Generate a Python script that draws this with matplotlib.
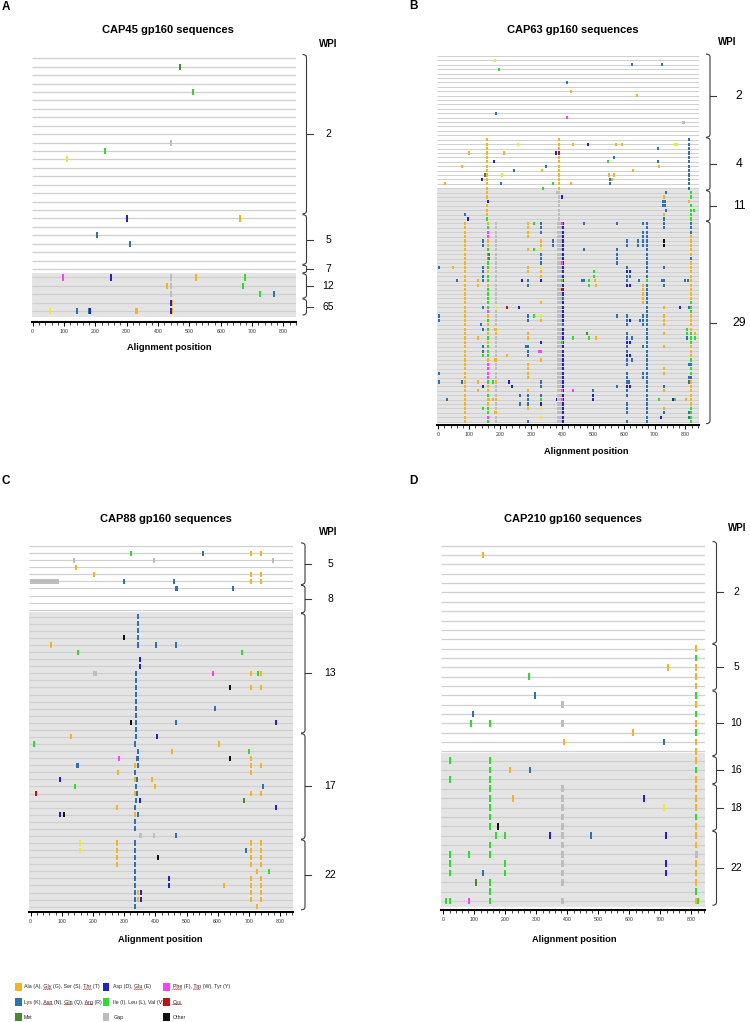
import matplotlib
matplotlib.use('Agg')
import numpy as np
import matplotlib.pyplot as plt
from matplotlib import font_manager
from matplotlib.path import Path
from matplotlib.patches import PathPatch, Rectangle
from matplotlib.lines import Line2D
from matplotlib.ticker import MultipleLocator
from matplotlib.transforms import IdentityTransform

W, H = 750, 1022
plt.rcParams['font.family'] = ['Liberation Sans', 'DejaVu Sans']

# residue class colours (A=small, Y=yellow variant, K=basic, D=acidic, V=hydrophobic,
# M=Met, G=gap, F=aromatic, C=Cys, X=other)
COLORS = {'A': '#f4b41a', 'Y': '#ecec22', 'K': '#2e72b4', 'D': '#2222cc', 'V': '#2edc2e',
          'M': '#4a8a2e', 'G': '#bdbdbd', 'F': '#ff3cff', 'C': '#c81010', 'X': '#111111'}

# ---------------- panel A : CAP45 ----------------
A_TITLE = 'CAP45 gp160 sequences'
A_GROUPS = [('2', 0, 18), ('5', 19, 24), ('7', 25, 25), ('12', 26, 28), ('65', 29, 30)]
A_MARKS = [(1, 470, 'M'), (4, 511, 'V'), (10, 441, 'G'), (11, 231, 'V'), (12, 108, 'Y'),
           (19, 301, 'D'), (19, 662, 'A'), (21, 204, 'K'), (22, 310, 'K'),
           (26, 96, 'F'), (26, 250, 'D'), (26, 441, 'G'), (26, 522, 'A'), (26, 678, 'V'),
           (27, 427, 'A'), (27, 441, 'G'), (27, 671, 'V'),
           (28, 441, 'G'), (28, 725, 'V'), (28, 770, 'K'),
           (29, 441, 'D'), (29, 445, 'A'),
           (30, 55, 'Y'), (30, 141, 'K'), (30, 179, 'K'), (30, 184, 'D'), (30, 330, 'A'),
           (30, 334, 'A'), (30, 441, 'D'), (30, 445, 'A')]
A_COLUMNS = []
A_GAPS = []

# ---------------- panel B : CAP63 ----------------
B_TITLE = 'CAP63 gp160 sequences'
B_GROUPS = [('2', 0, 18), ('4', 19, 30), ('11', 31, 37), ('29', 38, 83)]
B_COLUMNS = [
    (157, 19, 'AAAAAAAAAAAA' 'AA.AAA.'),
    (391, 19, 'AAACAAAAAAAA' 'GGGGGGG'),
    (811, 19, 'KKKKKKKKKKKK'),
    (87, 38, 'AAAAAAAAAA' 'AAAAAAAAAA' 'AAAAAAAAAA' 'AAAAAAAAAA' 'AAAAAA'),
    (160, 38, 'AVFFAAVVVV' 'VAVVAVVVVV' 'FAVAVAVAVV' 'VAFFFFVAAV' 'AAVVFV'),
    (187, 38, 'GGGGGGGGGG' 'GGGGGGGGGY' 'GGGGAAGGGG' 'GAGGGGAGGG' 'AGGAGG'),
    (289, 38, 'AAAA..A...' 'AA.KK.....' '.KK..AA.KK' 'K.AAAA..AK' 'KKA..K'),
    (332, 38, 'KKK.AAYKKK' 'YAAD....A.' '.YA....D.F' '.A....KK.K' 'VDY.Y.'),
    (387, 38, 'GGGGGGGGGG' 'GGGGGGGGGG' 'GGGGGGGGGG' 'GGGGGGGGGG' 'GGGGGG'),
    (393, 38, 'GGGGGGGGGG' 'GGGGGGGGGG' 'GGGGGGGGGG' 'GGGGGGGGGG' 'GGGGGG'),
    (399, 38, 'FAAAAAAAAF' 'AAAVACAAAA' 'AAAAAAAVAA' 'AAAAAAAAFA' 'FAAAAA'),
    (405, 38, 'DDDDDDDDDD' 'DDDDDDDKDD' 'DDDKDDDDDD' 'DDDDDDDDDD' 'DDDDDD'),
    (612, 38, '....KK....' 'KDKKD.....' '.KKK.KKDKK' 'DKK.KKKDKK' '.KKK.K'),
    (663, 38, 'K.KKKK....' '....AAAAA.' '.KKK....K.' '....KK....' '......'),
    (674, 38, 'KKKKKKKKKK' 'KKKVKKKKKK' 'KKKKKKKKKK' 'KKKKKKKKKK' 'KKKKKK'),
    (730, 38, 'KK..XX....' 'K..KK....A' '.AAA.A..A.' '...AA..KA.' '..AK..'),
    (817, 38, 'KKKAAAAAKA' 'AAAAAAAAVV' 'VAAAAVVVAA' 'AVKVVKAAAA' 'AAVVVV'),
]
B_MARKS = [
    (1, 183, 'Y'), (2, 626, 'K'), (2, 725, 'K'), (3, 195, 'V'), (6, 418, 'K'), (8, 431, 'A'),
    (9, 642, 'A'), (13, 187, 'K'), (14, 415, 'F'), (15, 793, 'G'),
    (20, 257, 'Y'), (20, 436, 'A'), (20, 483, 'D'), (20, 574, 'A'), (20, 594, 'A'),
    (20, 767, 'Y'), (20, 772, 'Y'), (21, 712, 'K'),
    (22, 99, 'A'), (22, 213, 'A'), (22, 382, 'D'), (23, 568, 'K'),
    (24, 181, 'D'), (24, 550, 'V'), (24, 711, 'K'),
    (25, 78, 'A'), (25, 347, 'K'), (25, 715, 'A'),
    (26, 244, 'K'), (26, 335, 'A'), (26, 631, 'A'),
    (27, 150, 'M'), (27, 206, 'Y'), (27, 552, 'A'), (27, 570, 'A'),
    (28, 142, 'D'), (28, 557, 'K'), (28, 563, 'A'),
    (29, 23, 'A'), (29, 202, 'K'), (29, 370, 'V'), (29, 431, 'A'), (29, 556, 'K'),
    (30, 338, 'V'),
    (31, 386, 'G'), (31, 736, 'K'), (31, 818, 'V'),
    (32, 399, 'D'), (32, 730, 'A'), (32, 818, 'V'),
    (33, 162, 'D'), (33, 728, 'K'), (33, 734, 'K'), (33, 810, 'A'),
    (34, 728, 'K'), (34, 734, 'K'), (34, 818, 'V'),
    (35, 736, 'K'), (35, 818, 'V'), (35, 828, 'V'),
    (36, 85, 'K'), (36, 730, 'A'), (36, 818, 'V'),
    (37, 95, 'D'), (37, 158, 'V'), (37, 732, 'K'), (37, 818, 'V'),
    (38, 310, 'V'), (38, 472, 'K'), (38, 577, 'K'),
    (42, 146, 'K'), (42, 372, 'K'), (42, 647, 'K'),
    (43, 146, 'K'), (43, 372, 'K'), (43, 647, 'K'),
    (44, 310, 'V'), (44, 472, 'K'), (44, 577, 'K'),
    (45, 165, 'M'), (45, 577, 'K'), (46, 165, 'M'), (46, 577, 'K'), (47, 577, 'K'),
    (48, 2, 'K'), (48, 49, 'A'), (48, 146, 'K'),
    (49, 146, 'K'), (49, 505, 'V'), (49, 620, 'D'),
    (50, 146, 'K'), (50, 505, 'V'), (50, 620, 'K'),
    (51, 60, 'K'), (51, 127, 'A'), (51, 146, 'K'), (51, 272, 'D'), (51, 464, 'K'),
    (51, 472, 'K'), (51, 487, 'V'), (51, 508, 'A'), (51, 648, 'K'), (51, 725, 'K'),
    (51, 800, 'K'), (51, 809, 'K'),
    (52, 127, 'A'), (52, 489, 'V'), (52, 510, 'A'), (52, 620, 'D'),
    (57, 146, 'K'), (57, 221, 'C'), (57, 262, 'D'), (57, 782, 'D'), (57, 810, 'K'),
    (59, 2, 'K'), (59, 310, 'V'), (59, 579, 'K'),
    (60, 2, 'K'), (60, 619, 'D'), (60, 653, 'K'),
    (61, 137, 'K'),
    (62, 146, 'K'), (62, 183, 'A'), (62, 804, 'V'),
    (63, 480, 'M'), (63, 804, 'V'), (63, 832, 'A'),
    (64, 128, 'A'), (64, 435, 'V'), (64, 489, 'V'), (64, 510, 'A'), (64, 626, 'K'),
    (64, 804, 'K'), (64, 832, 'V'),
    (65, 619, 'D'), (66, 146, 'K'), (66, 284, 'K'), (67, 146, 'K'), (67, 326, 'F'),
    (68, 146, 'V'), (68, 221, 'A'), (68, 619, 'D'), (69, 183, 'A'), (69, 628, 'K'),
    (70, 810, 'K'), (72, 2, 'K'), (73, 810, 'K'),
    (74, 2, 'K'), (74, 76, 'K'), (74, 128, 'A'), (74, 178, 'V'), (74, 228, 'D'),
    (74, 618, 'K'), (74, 810, 'K'),
    (75, 146, 'D'), (75, 237, 'D'), (75, 577, 'K'), (75, 619, 'D'),
    (76, 128, 'A'), (76, 437, 'F'), (76, 502, 'K'),
    (77, 264, 'K'), (77, 500, 'D'),
    (78, 27, 'K'), (78, 165, 'A'), (78, 178, 'A'), (78, 383, 'D'), (78, 500, 'D'),
    (78, 715, 'V'), (78, 761, 'D'), (78, 765, 'V'), (78, 801, 'A'),
    (79, 264, 'K'), (80, 146, 'V'), (81, 183, 'A'), (81, 810, 'K'),
    (82, 720, 'D'), (82, 810, 'K'),
]
B_GAPS = []

# ---------------- panel C : CAP88 ----------------
C_TITLE = 'CAP88 gp160 sequences'
C_GROUPS = [('5', 0, 5), ('8', 6, 9), ('13', 10, 26), ('17', 27, 41), ('22', 42, 51)]
C_COLUMNS = [(345, 10, 'KKKKK'), (352, 16, 'DD'), (338, 18, 'KKKKKKKKK'),
             (335, 42, 'KKKKKKKKKK')]
C_MARKS = [
    (1, 321, 'V'), (1, 553, 'K'), (1, 707, 'A'), (1, 738, 'A'),
    (2, 139, 'G'), (2, 396, 'G'), (2, 778, 'G'), (3, 145, 'A'),
    (4, 203, 'A'), (4, 707, 'A'), (4, 738, 'A'),
    (5, 300, 'K'), (5, 459, 'K'), (5, 707, 'A'), (5, 738, 'A'),
    (6, 465, 'K'), (6, 469, 'K'), (6, 649, 'K'),
    (13, 300, 'X'), (14, 64, 'A'), (14, 403, 'K'), (14, 467, 'K'),
    (15, 151, 'V'), (15, 677, 'V'),
    (18, 203, 'G'), (18, 209, 'G'), (18, 586, 'F'), (18, 707, 'A'), (18, 728, 'V'), (18, 738, 'A'),
    (20, 640, 'X'), (20, 707, 'A'), (20, 738, 'A'), (23, 591, 'K'),
    (25, 321, 'X'), (25, 467, 'K'), (25, 787, 'D'),
    (27, 128, 'A'), (27, 338, 'K'), (27, 406, 'D'),
    (28, 12, 'V'), (28, 334, 'K'), (28, 604, 'A'),
    (29, 345, 'K'), (29, 452, 'A'), (29, 700, 'V'),
    (30, 284, 'F'), (30, 341, 'K'), (30, 345, 'K'), (30, 640, 'X'), (30, 707, 'A'),
    (31, 149, 'K'), (31, 153, 'K'), (31, 334, 'A'), (31, 345, 'K'), (31, 707, 'A'), (31, 738, 'A'),
    (32, 279, 'A'), (32, 334, 'K'), (32, 707, 'A'),
    (33, 94, 'D'), (33, 334, 'A'), (33, 340, 'K'), (33, 389, 'A'),
    (34, 142, 'V'), (34, 338, 'K'), (34, 400, 'A'), (34, 745, 'K'),
    (35, 18, 'C'), (35, 334, 'A'), (35, 340, 'K'), (35, 707, 'A'), (35, 738, 'A'),
    (36, 338, 'K'), (36, 352, 'D'), (36, 686, 'M'),
    (37, 277, 'A'), (37, 334, 'K'), (37, 787, 'D'),
    (38, 94, 'D'), (38, 107, 'X'), (38, 334, 'A'), (38, 345, 'K'),
    (39, 334, 'K'), (40, 334, 'K'),
    (41, 352, 'G'), (41, 396, 'G'), (41, 467, 'K'),
    (42, 159, 'Y'), (42, 277, 'A'), (42, 707, 'A'), (42, 738, 'A'),
    (43, 159, 'Y'), (43, 277, 'A'), (43, 691, 'K'), (43, 707, 'A'), (43, 738, 'A'),
    (44, 277, 'A'), (44, 408, 'X'), (44, 707, 'A'), (44, 738, 'A'),
    (45, 277, 'A'), (45, 707, 'A'), (45, 738, 'A'),
    (46, 726, 'A'), (46, 764, 'V'),
    (47, 444, 'D'), (47, 707, 'A'), (47, 738, 'A'),
    (48, 444, 'D'), (48, 620, 'A'), (48, 707, 'A'), (48, 738, 'A'),
    (49, 344, 'A'), (49, 355, 'D'), (49, 707, 'A'), (49, 738, 'A'),
    (50, 344, 'A'), (50, 355, 'D'), (50, 707, 'A'), (50, 738, 'A'),
    (51, 726, 'A'),
]
C_GAPS = [(5, -2, 92)]

# ---------------- panel D : CAP210 ----------------
D_TITLE = 'CAP210 gp160 sequences'
D_GROUPS = [('2', 0, 10), ('5', 11, 15), ('10', 16, 22), ('16', 23, 25), ('18', 26, 30), ('22', 31, 38)]
D_COLUMNS = [(816, 11, 'AVAAAVAVAVAAAVAAAAVAAAGAAAVA'),
             (150, 23, 'VVVVVVVV.VV..VVV'),
             (385, 26, 'GGGGGGGGGGG.G')]
D_MARKS = [
    (1, 127, 'A'), (13, 724, 'A'), (14, 276, 'V'), (16, 296, 'K'), (17, 385, 'G'),
    (18, 97, 'K'), (19, 88, 'V'), (19, 150, 'V'), (19, 385, 'G'), (20, 613, 'A'),
    (21, 390, 'A'), (21, 713, 'K'),
    (23, 22, 'V'), (24, 215, 'A'), (24, 280, 'K'), (25, 22, 'V'),
    (27, 224, 'A'), (27, 646, 'D'), (28, 712, 'Y'), (30, 178, 'X'),
    (31, 170, 'V'), (31, 200, 'V'), (31, 343, 'D'), (31, 476, 'K'), (31, 717, 'D'),
    (33, 22, 'V'), (33, 84, 'V'),
    (34, 22, 'V'), (34, 200, 'V'), (34, 717, 'D'),
    (35, 22, 'V'), (35, 127, 'K'), (35, 200, 'V'), (35, 717, 'D'),
    (36, 105, 'M'),
    (38, 10, 'V'), (38, 22, 'V'), (38, 84, 'F'), (38, 821, 'V'),
]
D_GAPS = []

# ---------------- legend ----------------
LEGEND_LABELS = ['Ala (A), Gly (G), Ser (S), Thr (T)', 'Lys (K), Asn (N), Gln (Q), Arg (R)', 'Met',
                 'Asp (D), Glu (E)', 'Ile (I), Leu (L), Val (V)', 'Gap',
                 'Phe (F), Trp (W), Tyr (Y)', 'Cys', 'Other']
LEGEND_CODES = ['A', 'K', 'M', 'D', 'V', 'G', 'F', 'C', 'X']
LEGEND_SQUIGGLE = [['Gly', 'Thr'], ['Asn', 'Gln', 'Arg'], [], ['Glu'], [], [],
                   ['Phe', 'Trp'], ['Cys'], []]

# layout in output pixels
LAYOUT = {
    'A': dict(left=31.7, right=296, xlim=(-3.2, 840), row0=58.3, step=8.43, ybot=31.33,
              shade=(25.5, 30.65), brace_x=306.5, label_x=328, label_size=7.5,
              title_xy=(168.3, 30), wpi_xy=(328, 44), letter_xy=(6.3, 6.7),
              xlabel_xy=(169, 348), line_w=0.9),
    'B': dict(left=436.7, right=699.3, xlim=(-5.2, 844.7), row0=56, step=4.406, ybot=83.8,
              shade=(30.2, 83.4), brace_x=710, label_x=739, label_size=8.7,
              title_xy=(572.5, 30), wpi_xy=(726.7, 41.7), letter_xy=(413.3, 6.2),
              xlabel_xy=(586, 451), line_w=0.7),
    'C': dict(left=29.3, right=293.3, xlim=(-4.5, 842.7), row0=546, step=7.072, ybot=51.71,
              shade=(9.29, 51.47), brace_x=305, label_x=330, label_size=7.5,
              title_xy=(165.8, 519), wpi_xy=(327.8, 532.3), letter_xy=(5.8, 480.5),
              xlabel_xy=(160, 940), line_w=0.85),
    'D': dict(left=440.7, right=705, xlim=(-8.4, 844), row0=545.7, step=9.351, ybot=38.96,
              shade=(22.15, 38.6), brace_x=716.5, label_x=736, label_size=7.5,
              title_xy=(572.5, 519), wpi_xy=(736.7, 528.3), letter_xy=(413.3, 480.5),
              xlabel_xy=(574, 940), line_w=0.9),
}

fig = plt.figure(figsize=(W / 100, H / 100), dpi=100)
fig.patch.set_facecolor('white')


def fx(x):
    return x / W


def fy(y):
    return 1 - y / H


def expand(columns):
    out = []
    for pos, first, codes in columns:
        for i, c in enumerate(codes):
            if c != '.':
                out.append((first + i, pos, c))
    return out


def draw_brace(x0, t, b, hook=4.0, curl=3.0, tick=6.0):
    c = min(curl, (b - t) / 4)
    m = (t + b) / 2
    pts = [(x0 - hook, t), (x0, t), (x0, t + c), (x0, b - c), (x0, b), (x0 - hook, b)]
    codes = [Path.MOVETO, Path.CURVE3, Path.CURVE3, Path.LINETO, Path.CURVE3, Path.CURVE3]
    verts = [(fx(x), fy(y)) for x, y in pts]
    fig.add_artist(PathPatch(Path(verts, codes), fill=False, lw=0.8, ec='#3a3a3a',
                             transform=fig.transFigure))
    fig.add_artist(Line2D([fx(x0), fx(x0 + tick)], [fy(m), fy(m)], lw=0.8, color='#3a3a3a',
                          transform=fig.transFigure))


def draw_panel(key, letter, title, groups, marks, columns, gaps):
    L = LAYOUT[key]
    n = groups[-1][2] + 1
    top = L['row0'] - 0.5 * L['step']
    bot = L['row0'] + L['ybot'] * L['step']
    ax = fig.add_axes([fx(L['left']), fy(bot), (L['right'] - L['left']) / W, (bot - top) / H])
    ax.set_xlim(*L['xlim'])
    ax.set_ylim(L['ybot'], -0.5)
    ax.patch.set_alpha(0)
    ppu = (L['right'] - L['left']) / (L['xlim'][1] - L['xlim'][0])

    ax.axhspan(*L['shade'], color='#e4e4e4', lw=0, zorder=0)
    ax.hlines(list(range(n)), *L['xlim'], colors='#cfcfcf', lw=L['line_w'], zorder=1)

    allm = list(marks) + expand(columns)
    for code, col in COLORS.items():
        pts = [(r, p) for r, p, c in allm if c == code]
        if not pts:
            continue
        w = (2.5 if code == 'G' else 2.0) / ppu
        ax.bar([p for r, p in pts], 0.72, width=w, bottom=[r - 0.36 for r, p in pts],
               color=col, lw=0, zorder=2)
    for r, a, b in gaps:
        ax.bar((a + b) / 2, 0.72, width=b - a, bottom=r - 0.36, color=COLORS['G'], lw=0, zorder=2)

    for s in ['top', 'left', 'right']:
        ax.spines[s].set_visible(False)
    ax.spines['bottom'].set_linewidth(1.5)
    ax.set_yticks([])
    ax.xaxis.set_major_locator(MultipleLocator(100))
    ax.xaxis.set_minor_locator(MultipleLocator(20))
    ax.tick_params(axis='x', which='major', length=3, width=0.7, labelsize=3.8, pad=2,
                   labelcolor='#333333')
    ax.tick_params(axis='x', which='minor', length=1.8, width=0.5)

    for lab, a, b in groups:
        t = L['row0'] + (a - 0.45) * L['step']
        bt = L['row0'] + (b + 0.45) * L['step']
        draw_brace(L['brace_x'], t, bt)
        fig.text(fx(L['label_x']), fy((t + bt) / 2), lab, ha='center', va='center',
                 fontsize=L['label_size'])

    fig.text(fx(L['title_xy'][0]), fy(L['title_xy'][1]), title, ha='center', va='center',
             fontsize=8, fontweight='bold')
    fig.text(fx(L['wpi_xy'][0]), fy(L['wpi_xy'][1]), 'WPI', ha='center', va='center',
             fontsize=7, fontweight='bold')
    fig.text(fx(L['letter_xy'][0]), fy(L['letter_xy'][1]), letter, ha='center', va='center',
             fontsize=8.5, fontweight='bold')
    fig.text(fx(L['xlabel_xy'][0]), fy(L['xlabel_xy'][1]), 'Alignment position', ha='center',
             va='center', fontsize=6.7, fontweight='bold')


draw_panel('A', 'A', A_TITLE, A_GROUPS, A_MARKS, A_COLUMNS, A_GAPS)
draw_panel('B', 'B', B_TITLE, B_GROUPS, B_MARKS, B_COLUMNS, B_GAPS)
draw_panel('C', 'C', C_TITLE, C_GROUPS, C_MARKS, C_COLUMNS, C_GAPS)
draw_panel('D', 'D', D_TITLE, D_GROUPS, D_MARKS, D_COLUMNS, D_GAPS)

# legend
installed = {f.name for f in font_manager.fontManager.ttflist}
if 'Liberation Sans Narrow' in installed:
    leg_family, leg_size = ['Liberation Sans Narrow', 'DejaVu Sans'], 4.6
else:
    leg_family, leg_size = ['Liberation Sans', 'DejaVu Sans'], 3.8
LEG_COLS = [(15, 24), (102.7, 113.3), (163.3, 172.7)]
LEG_ROWS = [986.7, 1002, 1017.3]
leg_texts = []
for i, (lab, code) in enumerate(zip(LEGEND_LABELS, LEGEND_CODES)):
    sx, tx = LEG_COLS[i // 3]
    y = LEG_ROWS[i % 3]
    fig.add_artist(Rectangle((fx(sx), fy(y + 3.8)), 6.5 / W, 7.6 / H, transform=fig.transFigure,
                             fc=COLORS[code], ec='none'))
    leg_texts.append(fig.text(fx(tx), fy(y), lab, ha='left', va='center', fontsize=leg_size,
                              family=leg_family, color='#222222'))

renderer = fig.canvas.get_renderer()
for t, words in zip(leg_texts, LEGEND_SQUIGGLE):
    if not words:
        continue
    bb = t.get_window_extent(renderer)
    prop = t.get_fontproperties()
    s = t.get_text()
    for w in words:
        i = s.index(w)
        x0 = bb.x0 + (renderer.get_text_width_height_descent(s[:i], prop, ismath=False)[0] if i else 0)
        ww = renderer.get_text_width_height_descent(w, prop, ismath=False)[0]
        xs = np.arange(x0, x0 + ww + 0.1, 1.0)
        ys = bb.y0 - 0.2 + 0.6 * (np.arange(len(xs)) % 2)
        fig.add_artist(Line2D(xs, ys, lw=0.5, color='#e02020', transform=IdentityTransform()))

fig.savefig('out.png', dpi=100, facecolor='white')
